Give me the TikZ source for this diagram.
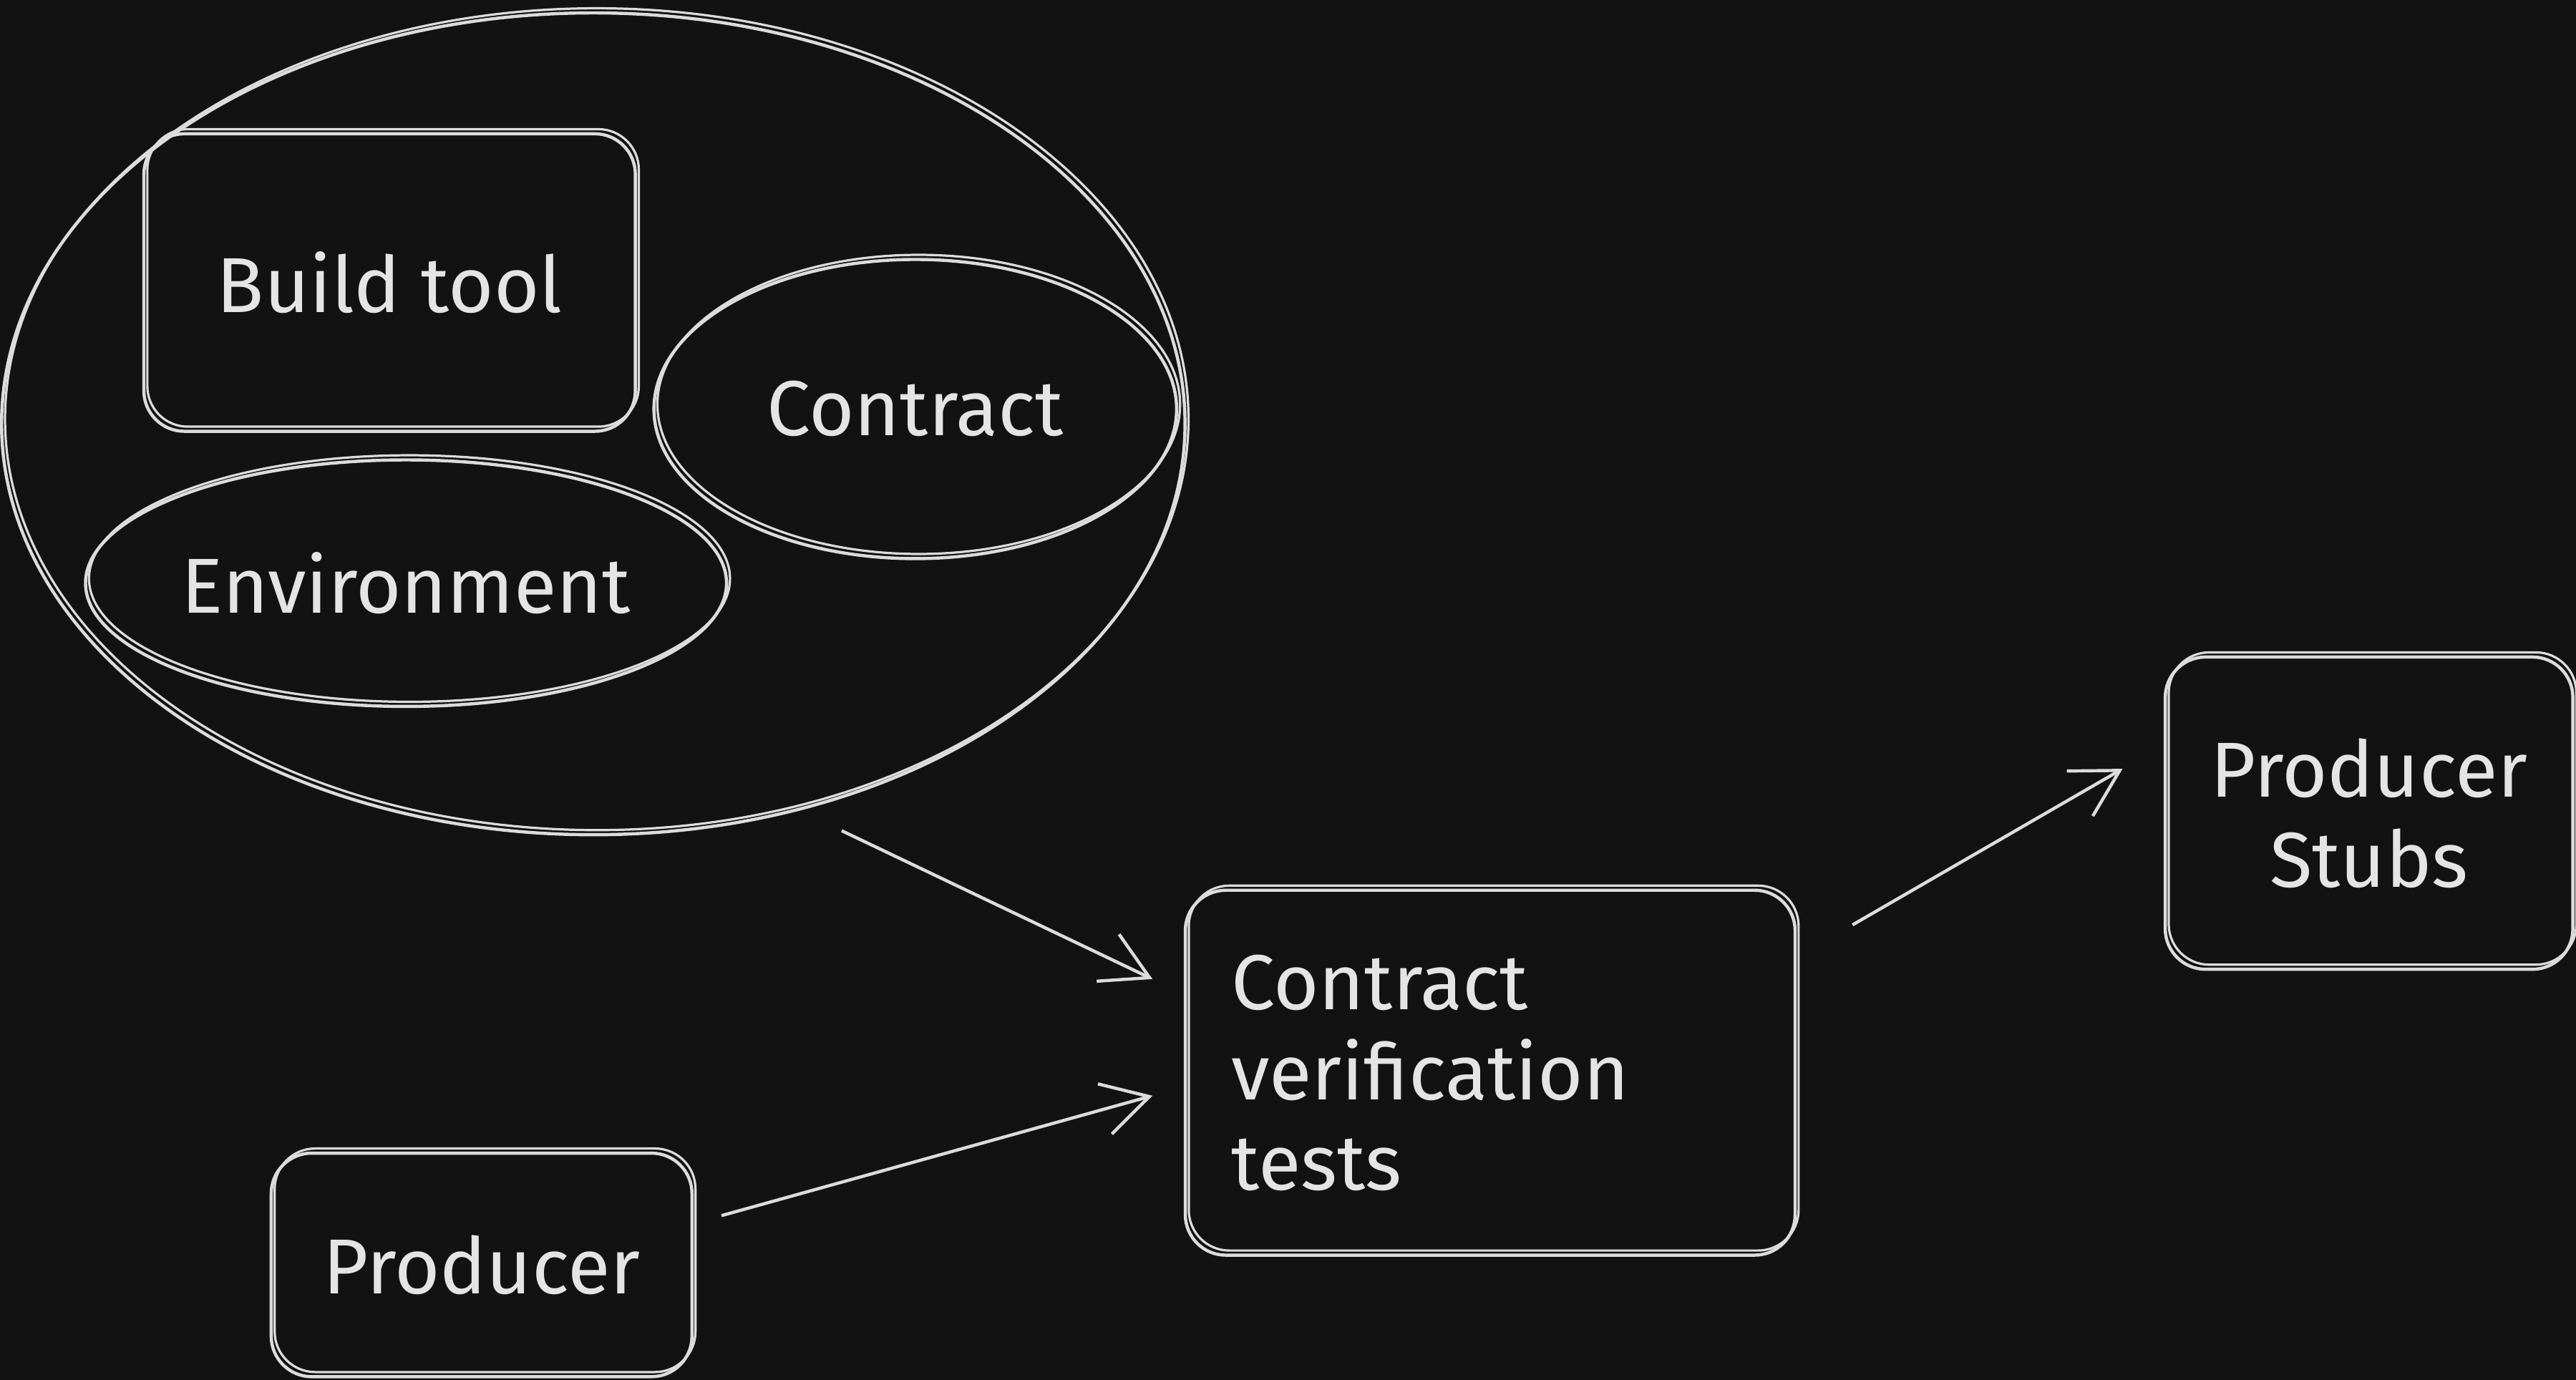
\documentclass[tikz,border=0pt]{standalone}
\usepackage{fontspec}
\setmainfont{Fira Sans}
\definecolor{sk_bg}{RGB}{18, 18, 18}
\definecolor{sk_line}{RGB}{220, 220, 220}
\definecolor{sk_text}{RGB}{228, 228, 228}
\usetikzlibrary{arrows.meta, positioning, shapes.geometric, calc}

\begin{document}
\begin{tikzpicture}[x=0.01cm, y=-0.01cm,
            font=\fontsize{13.5}{15.6}\selectfont, text=sk_text,
            sketch/.style={draw=sk_line, line width=0.55pt,
                           preaction={draw=sk_line, line width=0.4pt,
                           transform canvas={shift={(0.6pt,0.8pt)}}}},
            blk/.style={sketch, rounded corners=7pt, align=center},
            ell/.style={sketch, ellipse, inner sep=0pt},
            arr/.style={-{Straight Barb[length=8pt, width=9pt]},
                        draw=sk_line, line width=0.55pt}]
            \fill[sk_bg] (0,0) rectangle (1568,840);
            \node[ell, minimum width=7.2cm, minimum height=5cm] (inputs)
              at (361,258) {};
            \node[blk, minimum width=2.99cm, minimum height=1.81cm] (build)
              at (237,172) {Build tool};
            \node[ell, minimum width=3.18cm, minimum height=1.82cm] (contract)
              at (557,249) {Contract};
            \node[ell, minimum width=3.9cm, minimum height=1.5cm] (env)
              at (247,355) {Environment};
            \node[blk, minimum width=3.71cm, minimum height=2.22cm,
                  text width=3.15cm, align=left] (verify)
              at (907,653) {Contract\\verification\\tests};
            \node[blk, minimum width=2.56cm, minimum height=1.36cm] (producer)
              at (293,770) {Producer};
            \node[blk, minimum width=2.48cm, minimum height=1.9cm] (stubs)
              at (1442,495) {Producer\\Stubs};
            \draw[arr] ([shift={(12,16)}]inputs.-59) --
              ([shift={(-19,-57)}]verify.west);
            \draw[arr] ([shift={(17,-30)}]producer.east) --
              ([shift={(-19,14)}]verify.west);
            \draw[arr] ([shift={(34,-90)}]verify.east) --
              ([shift={(-25,-27)}]stubs.west);
          \end{tikzpicture}
\end{document}
